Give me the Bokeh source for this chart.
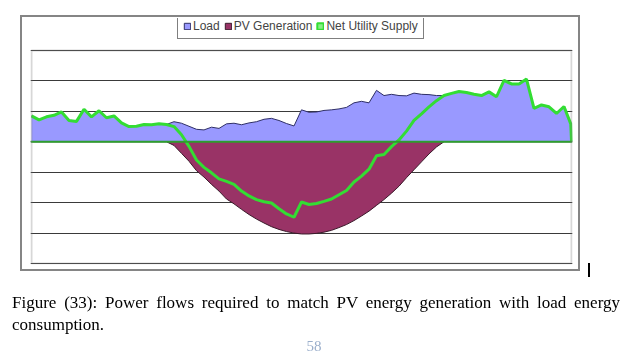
from bokeh.plotting import figure
from bokeh.models import (Range1d, Grid, FixedTicker, Legend, LegendItem,
                          BoxAnnotation, Span, Div, ColumnDataSource)
from bokeh.layouts import column
from bokeh.embed import file_html
from bokeh.resources import INLINE

# time of day in minutes
minutes = [0, 20, 40, 60, 80, 100, 120, 140, 160, 180, 200, 220, 240, 260, 280,
           300, 320, 340, 360, 380, 400, 420, 440, 460, 480, 500, 520, 540, 560,
           580, 600, 620, 640, 660, 680, 700, 720, 740, 760, 780, 800, 820, 840,
           860, 880, 900, 920, 940, 960, 980, 1000, 1020, 1040, 1060, 1080, 1100,
           1120, 1140, 1160, 1180, 1200, 1220, 1240, 1260, 1280, 1300, 1320, 1340,
           1360, 1380, 1400, 1420, 1438, 1440]

load = [0.85, 0.72, 0.82, 0.87, 0.98, 0.70, 0.67, 1.07, 0.82, 1.02, 0.79, 0.85,
        0.62, 0.50, 0.51, 0.57, 0.56, 0.59, 0.57, 0.66, 0.61, 0.51, 0.41, 0.39,
        0.48, 0.44, 0.59, 0.61, 0.56, 0.62, 0.66, 0.74, 0.77, 0.70, 0.60, 0.52,
        1.05, 0.97, 0.98, 1.03, 1.05, 1.08, 1.13, 1.28, 1.33, 1.28, 1.69, 1.52,
        1.56, 1.52, 1.51, 1.60, 1.56, 1.55, 1.52, 1.52, 1.59, 1.65, 1.62, 1.56,
        1.52, 1.64, 1.48, 2.02, 1.90, 1.90, 2.06, 1.10, 1.21, 1.15, 0.93, 1.16,
        0.59, 0.02]

pv_generation = [0, 0, 0, 0, 0, 0, 0, 0, 0, 0, 0, 0, 0, 0, 0, 0, 0, 0, 0,
                 0.12, 0.38, 0.64, 0.95, 1.16, 1.40, 1.62, 1.88, 2.04, 2.22, 2.39,
                 2.54, 2.67, 2.79, 2.88, 2.95, 3.00, 3.03, 3.03, 3.01, 2.97, 2.91,
                 2.82, 2.72, 2.59, 2.44, 2.28, 2.09, 1.90, 1.69, 1.46, 1.18, 0.92,
                 0.66, 0.40, 0.17,
                 0, 0, 0, 0, 0, 0, 0, 0, 0, 0, 0, 0, 0, 0, 0, 0, 0, 0, 0]

net_supply = [0.85, 0.72, 0.82, 0.87, 0.98, 0.70, 0.67, 1.07, 0.82, 1.02, 0.79, 0.85,
              0.62, 0.50, 0.51, 0.57, 0.56, 0.59, 0.57,
              0.50, 0.23, -0.15, -0.60, -0.84, -1.02, -1.22, -1.30, -1.40, -1.62,
              -1.78, -1.90, -1.97, -2.01, -2.20, -2.37, -2.48, -1.98, -2.06, -2.03,
              -1.96, -1.88, -1.74, -1.60, -1.32, -1.13, -0.90, -0.46, -0.42, -0.16,
              0.06, 0.35, 0.70, 0.92, 1.15, 1.35,
              1.52, 1.59, 1.65, 1.62, 1.56, 1.52, 1.64, 1.48, 2.02, 1.90, 1.90, 2.06,
              1.10, 1.21, 1.15, 0.93, 1.16, 0.59, 0.02]

grid_values = [-4, -3, -2, -1, 0, 1, 2, 3]
series_names = ["Load", "PV Generation", "Net Utility Supply"]

LOAD_FILL = "#9999FF"
PV_FILL = "#993366"
NET_COLOR = "#33DD33"

src = ColumnDataSource(dict(
    t=minutes, load=load, zero=[0] * len(minutes),
    pv_neg=[-v for v in pv_generation], net=net_supply))

# frame covers the plot area plus the legend strip above it
p = figure(width=620, height=290,
           x_range=Range1d(-2.667, 1442.667), y_range=Range1d(-4.0329, 4.0516),
           x_axis_type=None, y_axis_type=None,
           toolbar_location=None, output_backend="svg",
           min_border_left=30, min_border_right=48,
           min_border_top=18, min_border_bottom=26)
p.background_fill_color = "white"
p.border_fill_color = "white"
p.outline_line_color = None

p.add_layout(Grid(dimension=1, ticker=FixedTicker(ticks=grid_values),
                  grid_line_color="#3a3a3a", grid_line_width=1))

p.varea(x="t", y1="zero", y2="load", source=src, fill_color=LOAD_FILL)
p.varea(x="t", y1="pv_neg", y2="zero", source=src, fill_color=PV_FILL)
p.line(x="t", y="load", source=src, line_color="#2f2f66", line_width=1)
p.line(x="t", y="pv_neg", source=src, line_color="#3a1a2a", line_width=1)
p.add_layout(Span(location=0, dimension="width", line_color="#2e9e2e", line_width=2))
p.line(x="t", y="net", source=src, line_color=NET_COLOR, line_width=3)

# plot-area border
p.add_layout(BoxAnnotation(left=0, right=1440, bottom=-4, top=3,
                           fill_alpha=0, line_color="#7a7a7a", line_width=2,
                           level="overlay"))

# legend swatches (hidden placeholder glyphs, only their legend icons show)
nan = float("nan")
leg_load = p.quad(left=[nan], right=[nan], top=[nan], bottom=[nan],
                  fill_color=LOAD_FILL, line_color="#2f2f66", line_width=1)
leg_pv = p.quad(left=[nan], right=[nan], top=[nan], bottom=[nan],
                fill_color=PV_FILL, line_color="#3a1a2a", line_width=1)
leg_net = p.quad(left=[nan], right=[nan], top=[nan], bottom=[nan],
                 fill_color="#88EE88", line_color=NET_COLOR, line_width=2)

legend = Legend(items=[LegendItem(label=series_names[0], renderers=[leg_load]),
                       LegendItem(label=series_names[1], renderers=[leg_pv]),
                       LegendItem(label=series_names[2], renderers=[leg_net])],
                orientation="horizontal", location=(147, 225),
                glyph_width=8, glyph_height=8, label_standoff=2, spacing=4,
                padding=5, margin=0, label_height=11,
                label_text_font="Liberation Sans", label_text_font_size="12px",
                border_line_color="black", border_line_width=1,
                background_fill_color="white", background_fill_alpha=1)
p.add_layout(legend)

caption = ("Figure (33): Power flows required to match PV energy generation "
           "with load energy consumption.")
page_no = "58"

div = Div(width=608, height=20, text=(
    # outer chart frame and text cursor mark
    '<div style="position:fixed;left:20px;top:15px;width:560px;height:256px;'
    'border:2px solid #858585;box-sizing:border-box;"></div>'
    '<div style="position:fixed;left:588px;top:263px;width:2px;height:14px;'
    'background:#000;"></div>'
    '<div style="position:fixed;left:12px;top:292px;width:608px;'
    "font-family:'Liberation Serif';font-size:17px;line-height:22px;"
    'text-align:justify;color:#000;">' + caption + '</div>'
    '<div style="position:fixed;left:299px;top:339px;width:30px;'
    "text-align:center;font-family:'Liberation Serif';font-size:15px;"
    'line-height:15px;color:#9AAECB;">' + page_no + '</div>'))

layout = column(p, div)
open("out.html", "w").write(file_html(layout, INLINE))
